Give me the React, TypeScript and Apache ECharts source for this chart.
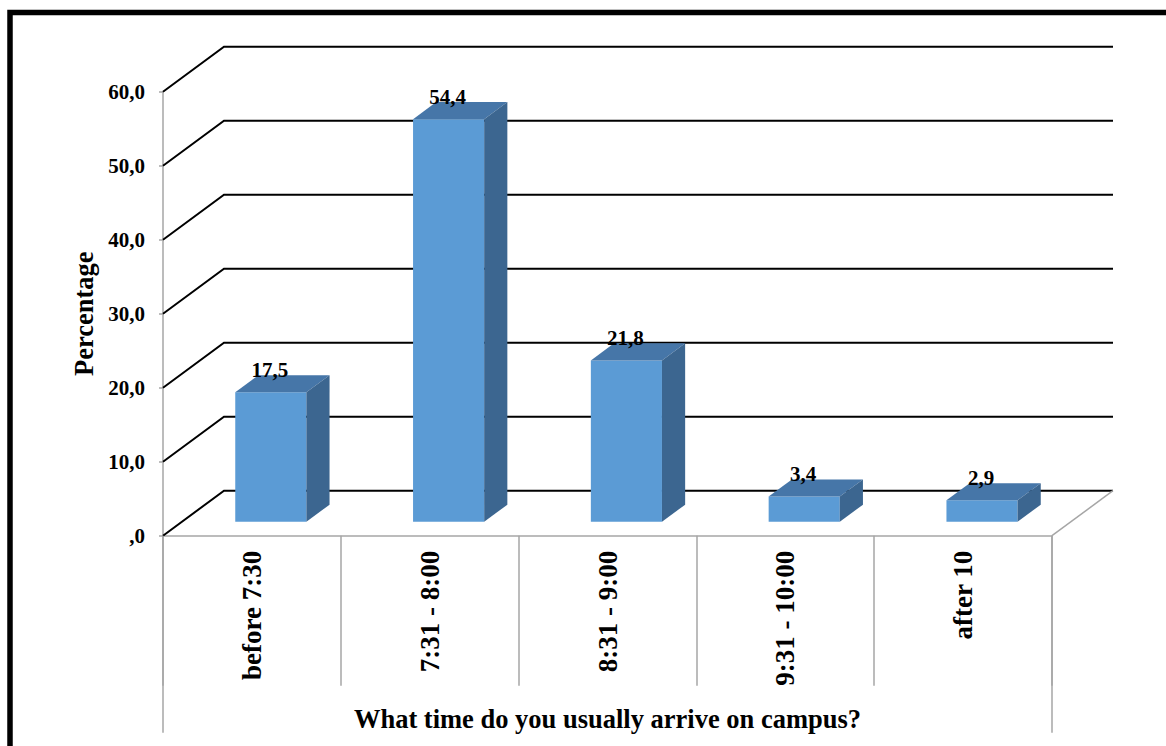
import { useEffect, useRef } from 'react';
import * as echarts from 'echarts';

// Arrival-time survey: share of respondents per time slot
const categories = ['before 7:30', '7:31 - 8:00', '8:31 - 9:00', '9:31 - 10:00', 'after 10'];
const percentages = [17.5, 54.4, 21.8, 3.4, 2.9];
const yTicks = [0, 10, 20, 30, 40, 50, 60];
const xTitle = 'What time do you usually arrive on campus?';
const yTitle = 'Percentage';

const FONT = '"Liberation Serif", "Times New Roman", serif';
const GRAY = '#a6a6a6';

// Pseudo-3D depth of the plot box (pixel offset from front plane to back wall)
const DEPTH_X = 61;
const DEPTH_Y = -45;
// Bars sit in the middle slice of the depth
const BAR_NEAR = 0.31;
const BAR_FAR = 0.69;
const BAR_WIDTH_RATIO = 0.4;

const fmt = (v: number) => (v === 0 ? ',0' : v.toFixed(1).replace('.', ','));

export default function App() {
  const ref = useRef<HTMLDivElement>(null);

  useEffect(() => {
    if (!ref.current) return;
    const chart = echarts.init(ref.current, undefined, { renderer: 'svg' });

    // Back-wall gridlines, floor edge and the long outer category separators
    const renderWall = (params: any, api: any) => {
      const cs = params.coordSys;
      const v = api.value(1);
      const y = api.coord([0, v])[1];
      const x0 = cs.x;
      const x1 = cs.x + cs.width;
      const children: any[] = [
        {
          type: 'polyline',
          shape: { points: [[x0, y], [x0 + DEPTH_X, y + DEPTH_Y], [x1 + DEPTH_X, y + DEPTH_Y]] },
          style: { stroke: '#000', lineWidth: 2, fill: null },
        },
      ];
      if (v === 0) {
        children.push({
          type: 'line',
          shape: { x1, y1: y, x2: x1 + DEPTH_X, y2: y + DEPTH_Y },
          style: { stroke: GRAY, lineWidth: 1.5 },
        });
        children.push({
          type: 'line',
          shape: { x1: x0, y1: y, x2: x0, y2: y + 197 },
          style: { stroke: GRAY, lineWidth: 1.5 },
        });
        children.push({
          type: 'line',
          shape: { x1, y1: y, x2: x1, y2: y + 197 },
          style: { stroke: GRAY, lineWidth: 1.5 },
        });
      }
      return { type: 'group', children };
    };

    const renderBar = (params: any, api: any) => {
      const ci = api.value(0);
      const v = api.value(1);
      const base = api.coord([ci, 0]);
      const top = api.coord([ci, v]);
      const bw = api.size([1, 0])[0] * BAR_WIDTH_RATIO;
      const L = base[0] - bw / 2 + DEPTH_X * BAR_NEAR;
      const R = L + bw;
      const B = base[1] + DEPTH_Y * BAR_NEAR;
      const T = top[1] + DEPTH_Y * BAR_NEAR;
      const dx = DEPTH_X * (BAR_FAR - BAR_NEAR);
      const dy = DEPTH_Y * (BAR_FAR - BAR_NEAR);
      return {
        type: 'group',
        children: [
          {
            type: 'rect',
            shape: { x: L, y: T, width: bw, height: B - T },
            style: { fill: '#5b9bd5' },
          },
          {
            type: 'polygon',
            shape: { points: [[L, T], [R, T], [R + dx, T + dy], [L + dx, T + dy]] },
            style: { fill: '#4676a8' },
          },
          {
            type: 'polygon',
            shape: { points: [[R, T], [R + dx, T + dy], [R + dx, B + dy], [R, B]] },
            style: { fill: '#3c6690' },
          },
          {
            type: 'text',
            style: {
              text: fmt(v),
              x: (L + R) / 2 - 1,
              y: T + dy - 5,
              align: 'center',
              verticalAlign: 'middle',
              font: `bold 21px ${FONT}`,
              fill: '#000',
            },
          },
        ],
      };
    };

    chart.setOption({
      animation: false,
      backgroundColor: '#fff',
      graphic: [
        {
          type: 'rect',
          shape: { x: 10, y: 12.5, width: 3000, height: 3000 },
          style: { stroke: '#000', lineWidth: 5.5, fill: null },
          silent: true,
          z: 100,
        },
      ],
      grid: {
        left: 163,
        right: 114,
        top: 91.7,
        bottom: 210.3,
        outerBoundsMode: 'none',
        containLabel: false,
      },
      xAxis: {
        type: 'category',
        data: categories,
        boundaryGap: true,
        name: xTitle,
        nameLocation: 'middle',
        nameGap: 170,
        nameTextStyle: { fontFamily: FONT, fontWeight: 'bold', fontSize: 26.5, color: '#000' },
        axisLine: { show: true, lineStyle: { color: GRAY, width: 1.5 } },
        axisTick: { show: true, interval: 0, length: 150, lineStyle: { color: GRAY, width: 1.5 } },
        axisLabel: {
          interval: 0,
          rotate: 90,
          margin: 15,
          fontFamily: FONT,
          fontWeight: 'bold',
          fontSize: 27,
          color: '#000',
        },
        splitLine: { show: false },
      },
      yAxis: {
        type: 'value',
        min: 0,
        max: 60,
        interval: 10,
        name: yTitle,
        nameLocation: 'middle',
        nameGap: 62,
        nameTextStyle: { fontFamily: FONT, fontWeight: 'bold', fontSize: 26.5, color: '#000' },
        axisLine: { show: true, lineStyle: { color: GRAY, width: 1.5 } },
        axisTick: { show: true, length: 4, lineStyle: { color: GRAY, width: 1.5 } },
        axisLabel: {
          margin: 18,
          formatter: (v: number) => fmt(v),
          fontFamily: FONT,
          fontWeight: 'bold',
          fontSize: 21,
          color: '#000',
        },
        splitLine: { show: false },
      },
      series: [
        {
          type: 'custom',
          name: 'wall',
          renderItem: renderWall,
          encode: { x: 0, y: 1 },
          data: yTicks.map((v) => [0, v]),
          silent: true,
          z: 1,
        },
        {
          type: 'custom',
          name: 'Percentage',
          renderItem: renderBar,
          encode: { x: 0, y: 1 },
          data: percentages.map((v, i) => [i, v]),
          z: 2,
        },
      ],
    });

    return () => chart.dispose();
  }, []);

  return (
    <div
      ref={ref}
      style={{ position: 'fixed', left: 0, top: 0, width: 1166, height: 746, background: '#fff' }}
    />
  );
}
